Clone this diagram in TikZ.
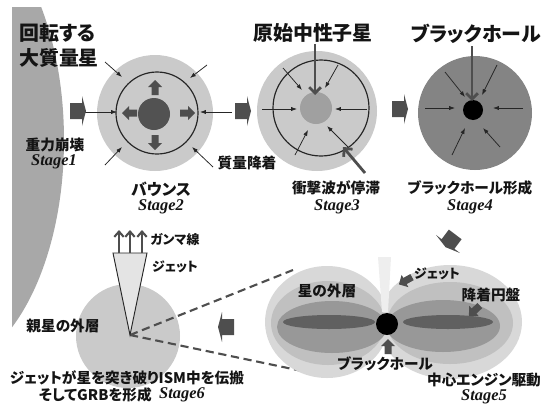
\documentclass[tikz,border=0pt]{standalone}
\usepackage{fontspec}
\setmainfont{Liberation Serif}
\newfontfamily\jp[RawFeature=+palt]{Noto Sans CJK JP}
\usetikzlibrary{arrows.meta}
\definecolor{star}{RGB}{168,168,168}
\definecolor{shell}{RGB}{202,202,202}
\definecolor{core}{RGB}{82,82,82}
\definecolor{pns}{RGB}{160,160,160}
\definecolor{bhshell}{RGB}{132,132,132}
\definecolor{blk}{RGB}{78,78,78}
\definecolor{ringc}{RGB}{38,38,38}
\definecolor{outer}{RGB}{216,216,216}
\definecolor{mid}{RGB}{192,192,192}
\definecolor{inner}{RGB}{152,152,152}
\definecolor{disk}{RGB}{96,96,96}
\definecolor{jetc}{RGB}{238,238,238}
\definecolor{cone}{RGB}{228,228,228}
\definecolor{txt}{RGB}{20,20,20}
\tikzset{
  ring/.style={draw=ringc,line width=1pt},
  inarr/.style={-{Latex[length=5pt,width=3.6pt]},line width=.65pt,draw=ringc},
  fall/.style={-{Straight Barb[length=5pt,width=10pt]},line width=2.4pt,draw=blk},
  gam/.style={-{Straight Barb[length=4.5pt,width=8pt]},line width=1.8pt,draw=blk},
  jlab/.style={font=\jp\bfseries\fontsize{12.5}{14}\selectfont,text=txt,inner sep=0pt},
  jbig/.style={jlab,font=\jp\bfseries\fontsize{17}{20}\selectfont},
  jsmall/.style={jlab,font=\jp\bfseries\fontsize{11}{13}\selectfont},
  stage/.style={font=\bfseries\itshape\fontsize{14}{16}\selectfont,text=txt,inner sep=0pt}
}
% arrow between two stages, and the small push/pointer arrow
\newcommand\stagearr[2]{\fill[blk,shift={(#1)},rotate=#2] (-7,-8) -- (5,-8) -- (5,-15) -- (9,0) -- (5,15) -- (5,8) -- (-7,8) -- cycle;}
\newcommand\pusharr[2]{\fill[blk,shift={(#1)},rotate=#2] (-8,-3.5) -- (0,-3.5) -- (0,-7) -- (7,0) -- (0,7) -- (0,3.5) -- (-8,3.5) -- cycle;}

\begin{document}
\begin{tikzpicture}[x=.3mm,y=-.3mm]
  \useasboundingbox (0,0) rectangle (554,410);

  % rotating massive star
  \begin{scope}
    \clip (12,7) rectangle (120,410);
    \fill[star] (-60,140) ellipse [x radius=124,y radius=230];
  \end{scope}

  % stage 2: bounce
  \fill[shell] (155,113) circle [radius=58];
  \draw[ring] (157,113) circle [radius=41];
  \fill[core] (154,114) circle [radius=16];
  \foreach \x/\y/\a in {155/87/90,155/143/-90,129/113/180,188/113/0} \pusharr{\x,\y}{\a};
  \foreach \xa/\ya/\xb/\yb in {105/62/122/77,207/65/190/78,85/112/117/112,232/112/200/112,105/165/122/147,213/167/192/147}
    \draw[inarr] (\xa,\ya) -- (\xb,\yb);

  % stage 3: proto neutron star
  \fill[shell] (317,111) circle [radius=60];
  \draw[ring] (321,108) circle [radius=48];
  \fill[pns] (316,108) circle [radius=16];
  \foreach \xa/\ya/\xb/\yb in {283/68/302/90,338/65/325/88,262/109/297/109,367/109/335/109,295/155/308/130,348/147/327/126}
    \draw[inarr] (\xa,\ya) -- (\xb,\yb);
  \draw[fall] (315,44) -- (315,95);
  \draw[fall] (365,173) -- (343,147);

  % stage 4: black hole
  \fill[bhshell] (475,113) circle [radius=57];
  \fill[black] (473,110) circle [radius=10];
  \foreach \xa/\ya/\xb/\yb in {445/72/465/97,497/65/482/95,425/108/455/108,523/108/493/108,452/155/465/128,500/147/483/128}
    \draw[inarr] (\xa,\ya) -- (\xb,\yb);
  \draw[fall] (472,46) -- (472,101);

  % arrows between stages
  \stagearr{77,111}{0}
  \stagearr{242,111}{0}
  \stagearr{399,109}{0}
  \stagearr{451,240}{-127}
  \stagearr{227,327}{180}

  % stage 6: jet breaks out
  \fill[shell] (128,336) circle [radius=52];
  \coordinate (apex) at (130,335);
  \coordinate (zt) at (293,270);
  \coordinate (zb) at (307,372);
  \draw[blk,line width=1.8pt,dash pattern=on 7pt off 4pt] (apex) -- (zt) (apex) -- (zb);
  \filldraw[fill=cone,draw=ringc,line width=.8pt] (apex) -- (113,253) -- (147,253) -- cycle;
  \foreach \x in {119,130,142} \draw[gam] (\x,253) -- (\x,230);

  % stage 5: central engine
  \fill[outer] (327,322) ellipse [x radius=62,y radius=56];
  \fill[outer] (450,322) ellipse [x radius=72,y radius=57];
  \fill[mid] (328,323) ellipse [x radius=57,y radius=42];
  \fill[mid] (450,323) ellipse [x radius=63,y radius=41];
  \fill[inner] (332,327) ellipse [x radius=55,y radius=26];
  \fill[inner] (443,326) ellipse [x radius=57,y radius=26];
  \fill[disk] (329,322) ellipse [x radius=46,y radius=7];
  \fill[disk] (448,322) ellipse [x radius=45,y radius=7];
  \fill[jetc] (378,257) -- (391,257) -- (388,312) -- (382,312) -- cycle;
  \fill[black] (387,324) circle [radius=11];
  \pusharr{405,281}{209}
  \pusharr{474,311}{-137}
  \pusharr{388,346}{90}

  % labels
  \node[jbig,anchor=west] (rot) at (19,33) {回転する};
  \node[jbig,anchor=west] (mstar) at (19,58) {大質量星};
  \node[jlab] (collapse) at (55,145) {重力崩壊};
  \node[stage] (st1) at (54,162) {Stage1};
  \node[jlab,font=\jp\bfseries\fontsize{13.5}{15}\selectfont] (bounce) at (161,189) {バウンス};
  \node[stage] (st2) at (161,207) {Stage2};
  \node[jlab] (accr) at (247,163) {質量降着};
  \node[jbig] (pnsname) at (313,33) {原始中性子星};
  \node[jbig] (bhname) at (476,34) {ブラックホール};
  \node[jlab] (stall) at (336,188) {衝撃波が停滞};
  \node[stage] (st3) at (337,207) {Stage3};
  \node[jlab] (bhform) at (470,188) {ブラックホール形成};
  \node[stage] (st4) at (470,207) {Stage4};
  \node[jsmall] (gamma) at (175,240) {ガンマ線};
  \node[jsmall] (jet6) at (175,267) {ジェット};
  \node[jlab] (env6) at (63,326) {親星の外層};
  \node[jlab] (grb1) at (127,378) {ジェットが星を突き破りISM中を伝搬};
  \node[jlab,anchor=east] (grb2) at (152,395) {そしてGRBを形成};
  \node[stage,anchor=west] (st6) at (159,395) {Stage6};
  \node[jsmall] (jet5) at (437,274) {ジェット};
  \node[jlab] (env5) at (327,291) {星の外層};
  \node[jlab] (disklab) at (491,295) {降着円盤};
  \node[jlab] (bhlab) at (385,364) {ブラックホール};
  \node[jlab] (engine) at (484,380) {中心エンジン駆動};
  \node[stage] (st5) at (484,397) {Stage5};
\end{tikzpicture}
\end{document}
